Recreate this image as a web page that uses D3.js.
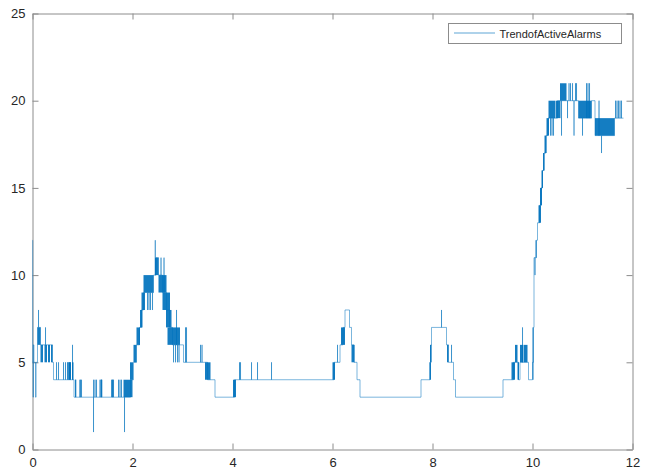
<!DOCTYPE html>
<html>
<head>
<meta charset="utf-8">
<script src="https://cdn.jsdelivr.net/npm/d3@7"></script>
<style>
  html, body { margin: 0; padding: 0; background: #fff; }
  svg { display: block; font-family: "Liberation Sans", Arial, Helvetica, sans-serif; }
</style>
</head>
<body>
<svg id="chart" width="651" height="469"></svg>
<script>
// Active alarm count: level changes [time, count] (held until the next change)
const levels = [
  [0, 12], [0.004, 5], [0.012, 3], [0.018, 6], [0.028, 5], [0.06, 3], [0.072, 5],
  [0.10, 7], [0.16, 6], [0.40, 5], [0.42, 4], [0.83, 3],
  [1.96, 4], [2.02, 5], [2.08, 6], [2.14, 7], [2.18, 8], [2.22, 9], [2.42, 10],
  [2.47, 11], [2.52, 10], [2.60, 9], [2.68, 8], [2.74, 7], [2.80, 6], [3.02, 5],
  [3.50, 4], [3.65, 3], [4.04, 4],
  [6.03, 5], [6.15, 6], [6.21, 7], [6.25, 8], [6.34, 7], [6.38, 6], [6.43, 5],
  [6.49, 4], [6.55, 3], [7.77, 4], [7.95, 5], [7.97, 6], [7.98, 7], [8.28, 6],
  [8.32, 5], [8.42, 4], [8.46, 3], [9.41, 4],
  [9.62, 5], [9.72, 4], [9.75, 5], [9.92, 4], [10.00, 5], [10.02, 7], [10.03, 11],
  [10.08, 12], [10.10, 13], [10.14, 14], [10.17, 15], [10.20, 16], [10.23, 17],
  [10.27, 18], [10.31, 19], [10.50, 20], [10.92, 19], [11.18, 20], [11.25, 18],
  [11.64, 19], [11.82, 19]
];

// Momentary alarms: [time, count reached] before returning to the held level
const blips = [
  [0.12, 8], [0.26, 7],
  [0.48, 5], [0.52, 5], [0.62, 5], [0.66, 5], [0.70, 5], [0.715, 5], [0.74, 5],
  [0.755, 5], [0.80, 6],
  [0.86, 4], [0.865, 4], [0.95, 4], [0.955, 4], [0.98, 4],
  [1.22, 1], [1.221, 4], [1.25, 4], [1.28, 4], [1.35, 4], [1.37, 4], [1.38, 4],
  [1.385, 4], [1.58, 4], [1.60, 4], [1.605, 4], [1.62, 4], [1.72, 4], [1.75, 4],
  [1.78, 4], [1.84, 1],
  [2.30, 8], [2.33, 8], [2.36, 8], [2.40, 8], [2.455, 12], [2.57, 11], [2.63, 11],
  [2.82, 5], [2.86, 5], [2.88, 8], [2.90, 5], [2.93, 5], [3.06, 7], [3.08, 7],
  [3.36, 6], [3.39, 6],
  [4.14, 5], [4.16, 5], [4.38, 5], [4.50, 5], [4.78, 5],
  [6.10, 6], [8.18, 8], [8.38, 6], [8.44, 4], [9.405, 3],
  [9.80, 7],
  [10.36, 18], [10.39, 18], [10.42, 18], [10.58, 18], [10.70, 19],
  [10.73, 21], [10.76, 21], [10.80, 21], [10.83, 18], [10.86, 21], [10.88, 21],
  [11.00, 18], [11.08, 21], [11.11, 21], [11.14, 21],
  [11.33, 20], [11.38, 17],
  [11.66, 20], [11.69, 20], [11.72, 20], [11.75, 20], [11.78, 20]
];

// Rapid toggling between two counts: [start, end, low, high]
const bursts = [
  [0.10, 0.16, 6, 7], [0.16, 0.21, 5, 6], [0.24, 0.29, 5, 6], [0.31, 0.35, 5, 6],
  [0.37, 0.40, 5, 6], [0.72, 0.77, 4, 5], [0.79, 0.82, 4, 5],
  [1.82, 2.00, 3, 4], [1.95, 2.01, 4, 5], [2.02, 2.08, 5, 6], [2.08, 2.15, 6, 7],
  [2.15, 2.20, 7, 8], [2.18, 2.25, 8, 9], [2.22, 2.42, 9, 10], [2.45, 2.52, 10, 11],
  [2.52, 2.68, 9, 10], [2.60, 2.75, 8, 9], [2.67, 2.78, 7, 8], [2.70, 2.95, 6, 7],
  [3.45, 3.56, 4, 5], [4.01, 4.07, 3, 4],
  [6.00, 6.05, 4, 5], [6.17, 6.25, 6, 7], [6.38, 6.44, 5, 6],
  [7.94, 7.97, 4, 5], [7.95, 7.98, 5, 6], [8.29, 8.32, 5, 6],
  [9.58, 9.65, 4, 5], [9.65, 9.70, 5, 6], [9.70, 9.73, 4, 5], [9.75, 9.82, 5, 6],
  [9.83, 9.90, 5, 6], [10.00, 10.02, 4, 7], [10.04, 10.05, 10, 11],
  [10.06, 10.08, 11, 12], [10.12, 10.17, 13, 14], [10.15, 10.19, 14, 15],
  [10.18, 10.21, 15, 16], [10.21, 10.24, 16, 17], [10.24, 10.28, 17, 18],
  [10.28, 10.33, 18, 19], [10.32, 10.45, 19, 20], [10.46, 10.56, 19, 20],
  [10.55, 10.68, 20, 21], [10.92, 11.18, 19, 20], [11.25, 11.64, 18, 19]
];

const xTicks = [0, 2, 4, 6, 8, 10, 12];
const yTicks = [0, 5, 10, 15, 20, 25];
const seriesName = "TrendofActiveAlarms";

const plot = { left: 32.5, right: 632.5, top: 13.5, bottom: 449.5 };
const lineColor = "#0072BD";
const axisColor = "#8c8c8c";
const textColor = "#262626";

const svg = d3.select("#chart");

const x = d3.scaleLinear().domain([0, 12]).range([plot.left, plot.right]);
const y = d3.scaleLinear().domain([0, 25]).range([plot.bottom, plot.top]);

// Merge the momentary alarms into the held-level sequence
function levelAt(t) {
  let v = levels[0][1];
  for (const [lt, lv] of levels) { if (lt <= t) v = lv; else break; }
  return v;
}
const series = levels.map(d => ({ t: d[0], v: d[1] }));
blips.forEach(([t, v]) => {
  const base = levelAt(t);
  series.push({ t: t, v: v });
  series.push({ t: t + 0.0008, v: base });
});
series.sort((a, b) => a.t - b.t);

// Toggling bands
svg.append("g").selectAll("rect")
  .data(bursts)
  .join("rect")
  .attr("x", d => x(d[0]))
  .attr("width", d => Math.max(1, x(d[1]) - x(d[0])))
  .attr("y", d => y(d[3]))
  .attr("height", d => y(d[2]) - y(d[3]))
  .attr("fill", lineColor)
  .attr("fill-opacity", 0.92);

// Step trace
const line = d3.line()
  .x(d => x(d.t))
  .y(d => y(d.v))
  .curve(d3.curveStepAfter);

// Axes box with inward ticks on all four sides
function styleAxis(sel) {
  sel.attr("font-family", null);
  sel.selectAll(".domain").attr("stroke", axisColor).attr("stroke-width", 1);
  sel.selectAll(".tick line").attr("stroke", axisColor).attr("stroke-width", 1);
  sel.selectAll(".tick text").attr("fill", textColor).style("font-size", "13px");
}

svg.append("g")
  .attr("transform", `translate(0,${plot.bottom})`)
  .call(d3.axisBottom(x).tickValues(xTicks).tickSizeInner(-6).tickSizeOuter(0).tickPadding(8))
  .call(styleAxis);
svg.append("g")
  .attr("transform", `translate(0,${plot.top})`)
  .call(d3.axisTop(x).tickValues(xTicks).tickSizeInner(-6).tickSizeOuter(0).tickFormat(""))
  .call(styleAxis);
svg.append("g")
  .attr("transform", `translate(${plot.left},0)`)
  .call(d3.axisLeft(y).tickValues(yTicks).tickSizeInner(-6).tickSizeOuter(0).tickPadding(7))
  .call(styleAxis);
svg.append("g")
  .attr("transform", `translate(${plot.right},0)`)
  .call(d3.axisRight(y).tickValues(yTicks).tickSizeInner(-6).tickSizeOuter(0).tickFormat(""))
  .call(styleAxis);

svg.append("path")
  .datum(series)
  .attr("d", line)
  .attr("fill", "none")
  .attr("stroke", lineColor)
  .attr("stroke-width", 0.65)
  .attr("stroke-opacity", 0.8);

// Legend
const lg = svg.append("g");
lg.append("rect")
  .attr("x", 448.5).attr("y", 23.5).attr("width", 173).attr("height", 20)
  .attr("fill", "#fff").attr("stroke", axisColor).attr("stroke-width", 1);
lg.append("line")
  .attr("x1", 454).attr("x2", 495).attr("y1", 33).attr("y2", 33)
  .attr("stroke", lineColor).attr("stroke-width", 0.8).attr("stroke-opacity", 0.8);
lg.append("text")
  .attr("x", 499.5).attr("y", 37.5)
  .attr("fill", textColor)
  .style("font-size", "11px")
  .text(seriesName);
</script>
</body>
</html>
